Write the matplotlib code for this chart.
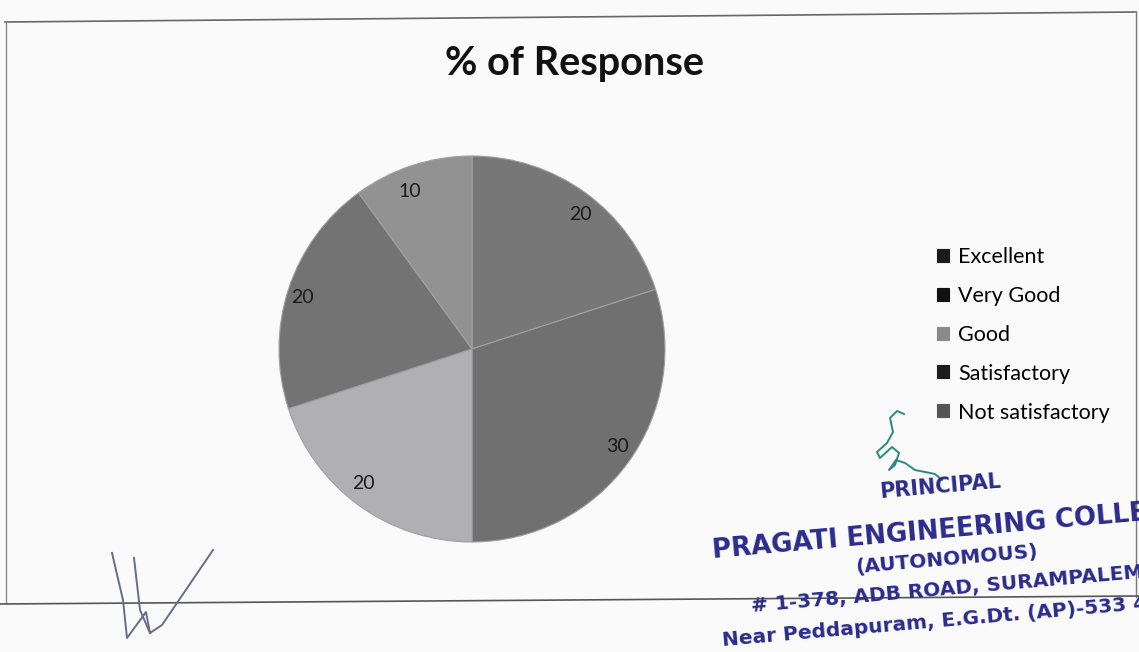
import matplotlib
matplotlib.use('Agg')
import matplotlib.pyplot as plt
from matplotlib.lines import Line2D

# survey result, % of response per rating
labels = ['Excellent', 'Very Good', 'Good', 'Satisfactory', 'Not satisfactory']
values = [20, 30, 20, 20, 10]
wedge_colors = ['#777777', '#707070', '#b0b0b3', '#737373', '#929292']
legend_colors = ['#1a1a1a', '#111111', '#8a8a8a', '#1c1c1c', '#555555']

stamp_lines = ['PRINCIPAL',
               'PRAGATI ENGINEERING COLLEGE',
               '(AUTONOMOUS)',
               '# 1-378, ADB ROAD, SURAMPALEM',
               'Near Peddapuram, E.G.Dt. (AP)-533 437']

W, H = 1139, 652
fig = plt.figure(figsize=(W / 100, H / 100), dpi=100, facecolor='#fafafa')

def fx(px):
    return px / W

def fy(py):
    return 1 - py / H

# chart border
fig.add_artist(Line2D([fx(5), fx(1136)], [fy(22), fy(12)], color='#666666', lw=1.2))
fig.add_artist(Line2D([fx(6), fx(6)], [fy(22), fy(603)], color='#8a8a8a', lw=1.0))
fig.add_artist(Line2D([fx(1136), fx(1136)], [fy(12), fy(597)], color='#777777', lw=1.0))
fig.add_artist(Line2D([fx(0), fx(1139)], [fy(604), fy(596)], color='#555555', lw=1.2))

fig.text(fx(574), fy(63), '% of Response', ha='center', va='center',
         fontsize=28.5, fontweight='bold', family='Lato', color='#111111')

# pie
cx, cy, r = 472, 349, 193
ax = fig.add_axes([fx(cx - r), fy(cy + r), 2 * r / W, 2 * r / H])
wedges, texts = ax.pie(values, colors=wedge_colors, startangle=90, counterclock=False,
                       labels=[str(v) for v in values], labeldistance=0.86,
                       wedgeprops=dict(edgecolor='#a0a0a0', linewidth=0.8),
                       textprops=dict(fontsize=14, family='Lato', color='#1a1a1a'))
ax.set_xlim(-1, 1)
ax.set_ylim(-1, 1)
ax.set_aspect('auto')
ax.axis('off')

leg = fig.legend(wedges, labels, loc='upper left', bbox_to_anchor=(fx(926), fy(236)),
                 frameon=False, prop=dict(family='Lato', size=15.5),
                 handlelength=0.55, handleheight=0.55, handletextpad=0.45,
                 labelspacing=0.88, borderpad=0)
for h, c in zip(leg.legend_handles, legend_colors):
    h.set_facecolor(c)
    h.set_edgecolor(c)

# principal stamp
blue = '#2b2b8c'
rot = 5
fig.text(fx(940), fy(487), stamp_lines[0], ha='center', va='center', rotation=rot,
         fontsize=15, fontweight='bold', family='DejaVu Sans', color=blue)
fig.text(fx(713), fy(558), stamp_lines[1], ha='left', va='baseline', rotation=rot,
         rotation_mode='anchor', fontsize=18.7, fontweight='bold',
         family='DejaVu Sans', color=blue)
fig.text(fx(947), fy(560), stamp_lines[2], ha='center', va='center', rotation=rot,
         fontsize=14.5, fontweight='bold', family='DejaVu Sans', color=blue)
fig.text(fx(752), fy(612), stamp_lines[3], ha='left', va='baseline', rotation=rot,
         rotation_mode='anchor', fontsize=14.5, fontweight='bold',
         family='DejaVu Sans', color=blue)
fig.text(fx(723), fy(646), stamp_lines[4], ha='left', va='baseline', rotation=rot,
         rotation_mode='anchor', fontsize=14.5, fontweight='bold',
         family='DejaVu Sans', color=blue)

# signatures
fig.add_artist(Line2D([fx(p) for p in (112, 123, 127, 146, 150, 162, 213)],
                      [fy(p) for p in (553, 600, 638, 612, 633, 625, 550)],
                      color='#6a6a90', lw=1.4))
fig.add_artist(Line2D([fx(p) for p in (134, 140, 150)],
                      [fy(p) for p in (558, 610, 633)],
                      color='#6a6a90', lw=1.4))
fig.add_artist(Line2D([fx(p) for p in (904, 897, 890, 893, 887, 877, 880, 892, 899,
                                       895, 889, 896, 905, 915, 925, 935, 942)],
                      [fy(p) for p in (414, 411, 418, 432, 443, 452, 458, 447, 453,
                                       465, 470, 460, 463, 470, 472, 474, 480)],
                      color='#2a8a80', lw=1.4))

fig.savefig('out.png', dpi=100, facecolor=fig.get_facecolor())
